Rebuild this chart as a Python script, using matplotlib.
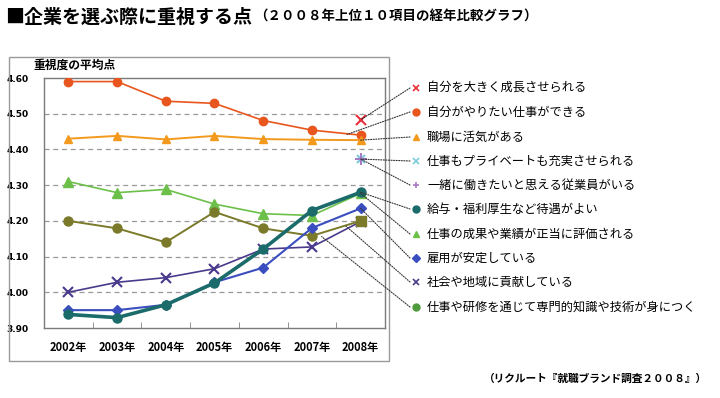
import matplotlib.pyplot as plt
import numpy as np
from matplotlib.patches import Rectangle, ConnectionPatch

plt.rcParams['font.family'] = ['Noto Sans CJK JP', 'DejaVu Sans']

# data (nan = no value that year)
nan = np.nan
years = ['2002年', '2003年', '2004年', '2005年', '2006年', '2007年', '2008年']
labels = ['自分を大きく成長させられる', '自分がやりたい仕事ができる', '職場に活気がある',
          '仕事もプライベートも充実させられる', '一緒に働きたいと思える従業員がいる',
          '給与・福利厚生など待遇がよい', '仕事の成果や業績が正当に評価される',
          '雇用が安定している', '社会や地域に貢献している',
          '仕事や研修を通じて専門的知識や技術が身につく']
grow = [nan, nan, nan, nan, nan, nan, 4.483]
want_job = [4.59, 4.59, 4.535, 4.529, 4.481, 4.454, 4.44]
lively = [4.43, 4.438, 4.428, 4.438, 4.429, 4.427, 4.426]
private = [nan, nan, nan, nan, nan, nan, 4.373]
coworkers = [nan, nan, nan, nan, nan, nan, 4.373]
salary = [3.938, 3.929, 3.965, 4.026, 4.121, 4.229, 4.28]
evaluated = [4.31, 4.279, 4.288, 4.247, 4.22, 4.215, 4.277]
stable = [3.95, 3.95, 3.965, 4.028, 4.069, 4.18, 4.235]
society = [4.0, 4.028, 4.041, 4.066, 4.121, 4.127, 4.198]
skills = [4.2, 4.179, 4.14, 4.225, 4.179, 4.158, 4.2]
series = [grow, want_job, lively, private, coworkers, salary, evaluated, stable, society, skills]

# styles per series: colour, marker, marker size, line width, z-order
styles = [
    ('#e8303c', 'x', 7, 1.2, 9),
    ('#e8561e', 'o', 6, 1.2, 5),
    ('#f39a1e', '^', 6, 1.4, 6),
    ('#7ccce0', 'x', 6, 1.2, 7),
    ('#a77cc4', '+', 8, 1.2, 8),
    ('#1b6b6b', 'o', 6.5, 2.6, 7),
    ('#6cc04a', '^', 6.5, 1.2, 4),
    ('#3a4ec0', 'D', 5, 1.5, 5),
    ('#4b3a8c', 'x', 7, 1.2, 3),
    ('#7a7a2a', 'o', 6.5, 1.4, 4),
]
legend_colors = ['#e8303c', '#e8561e', '#f39a1e', '#7ccce0', '#a77cc4',
                 '#1b6b6b', '#6cc04a', '#3a4ec0', '#4b3a8c', '#4f9a3c']
legend_markers = ['x', 'o', '^', 'x', '+', 'o', '^', 'D', 'x', 'o']
# where each leader line ends on the chart (category index, value)
leader_ends = [(6, 4.483), (5.72, 4.442), (6, 4.426), (6, 4.373), (6, 4.373),
               (6, 4.28), (6, 4.277), (6, 4.235), (5.7, 4.185), (5.2, 4.156)]

W, H = 720, 398
fig = plt.figure(figsize=(W / 100, H / 100), dpi=100)

# outer chart frame
fig.add_artist(Rectangle((9 / W, 1 - 361 / H), 380 / W, 304 / H, transform=fig.transFigure,
                         fill=False, edgecolor='#9a9a9a', linewidth=1.0))

ax = fig.add_axes([44 / W, 1 - 328 / H, 341 / W, 250 / H])
x = np.arange(len(years))
for i, (vals, (c, m, ms, lw, z)) in enumerate(zip(series, styles)):
    v = np.array(vals, dtype=float)
    if i == 9:
        # olive line: circles, but a square marker on the last year
        ax.plot(x, v, color=c, lw=lw, marker=m, ms=ms, markevery=list(range(6)), zorder=z)
        ax.plot(x[-1:], v[-1:], color=c, marker='s', ms=6.5, ls='none', zorder=z)
    else:
        mew = 1.5 if m in ('x', '+') else 1
        ax.plot(x, v, color=c, lw=lw, marker=m, ms=ms, mew=mew, zorder=z)

ax.set_xlim(-0.5, 6.5)
ax.set_ylim(3.9, 4.6)
ax.set_yticks(np.arange(3.9, 4.61, 0.1))
ax.set_yticklabels(['%.2f' % t for t in np.arange(3.9, 4.61, 0.1)],
                   fontsize=6.5, fontweight='bold', family='DejaVu Sans')
for g in np.arange(4.0, 4.51, 0.1):
    ax.axhline(g, color='#999999', lw=0.9, ls=(0, (4, 3)), zorder=1)
ax.set_xticks(x)
ax.set_xticklabels(years, fontsize=8, fontweight='bold')
ax.set_xticks(np.arange(0.5, 6, 1), minor=True)
ax.tick_params(axis='x', which='major', length=0, pad=9)
ax.tick_params(axis='x', which='minor', direction='in', length=4, color='#808080')
ax.tick_params(axis='y', length=0, pad=11)
for s in ax.spines.values():
    s.set_color('#7a7a7a')
    s.set_linewidth(1.0)

fig.text(34 / W, 1 - 65 / H, '重視度の平均点', fontsize=8.5, fontweight='bold', va='center')

# overlay in pixel coordinates for legend and leader lines
ov = fig.add_axes([0, 0, 1, 1], zorder=10)
ov.set_xlim(0, W)
ov.set_ylim(H, 0)
ov.axis('off')
ov.patch.set_alpha(0)

row_y = [88, 112, 137, 161, 185, 209, 234, 258, 282, 307]
for lab, yy, lc, lm, end in zip(labels, row_y, legend_colors, legend_markers, leader_ends):
    ov.plot([416], [yy], marker=lm, color=lc, ms=5 if lm in ('o', '^') else 4.5,
            mew=1.2 if lm in ('x', '+') else 1)
    ov.text(427, yy, lab, fontsize=8.8, va='center', ha='left')
    con = ConnectionPatch(xyA=(410, yy), coordsA=ov.transData, xyB=end, coordsB=ax.transData,
                          color='#333333', lw=0.8, ls=(0, (1, 1.3)))
    fig.add_artist(con)

ov.text(5, 17, '■企業を選ぶ際に重視する点', fontsize=13.7, fontweight='bold', va='center')
ov.text(254, 17, '（２００８年上位１０項目の経年比較グラフ）', fontsize=9.7,
        fontweight='bold', va='center')
ov.text(707, 379, '（リクルート『就職ブランド調査２００８』）', fontsize=7.7,
        fontweight='bold', va='center', ha='right')

fig.savefig('out.png', dpi=100)
